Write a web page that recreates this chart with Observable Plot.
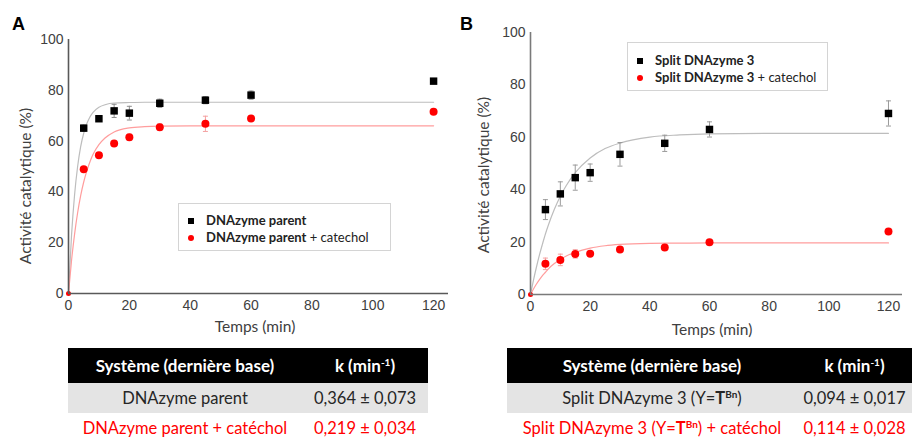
<!DOCTYPE html>
<html><head><meta charset="utf-8">
<script src="https://cdn.jsdelivr.net/npm/d3@7"></script>
<script src="https://cdn.jsdelivr.net/npm/@observablehq/plot@0.6"></script>
<style>
html,body{margin:0;padding:0;background:#fff;}
body{width:912px;height:443px;position:relative;overflow:hidden;font-family:Lato,"Open Sans",sans-serif;}
.plot{position:absolute;top:0;}
.letter{position:absolute;font-family:"Liberation Sans",Arial,sans-serif;font-weight:bold;font-size:18px;line-height:18px;color:#000;}
.axt{position:absolute;font-size:15.5px;color:#404040;white-space:nowrap;line-height:1;}
.legend{position:absolute;border:1px solid #d4d4d4;background:#fff;box-sizing:border-box;}
.lrow{position:absolute;left:0;font-size:13px;color:#222;white-space:nowrap;line-height:1;transform:translateY(-50%);}
.lrow b{font-weight:bold;}
.sym{position:absolute;}
table.tbl{position:absolute;border-collapse:collapse;table-layout:fixed;}
table.tbl td,table.tbl th{padding:0;text-align:center;white-space:nowrap;}
table.tbl th{background:#000;color:#fff;font-weight:bold;font-size:17px;height:35px;}
table.tbl tr.g td{background:#e4e4e4;color:#262626;font-size:16.5px;height:30px;}
table.tbl tr.r td{background:#fff;color:#ff0000;font-size:16.5px;height:30px;}
sup{font-size:10px;line-height:0;vertical-align:6px;}
</style></head><body>
<div id="plotA" class="plot" style="left:0"></div>
<div id="plotB" class="plot" style="left:455px"></div>
<div id="overlay"></div>
<script>
// ---------- data ----------
const times = [0, 5, 10, 15, 20, 30, 45, 60, 120];
const xTicks = [0, 20, 40, 60, 80, 100, 120];
const yTicks = [0, 20, 40, 60, 80, 100];

// Panel A
const parentA      = [0, 65.1, 68.8, 71.9, 71.0, 74.9, 76.1, 78.1, 83.6];
const parentAErr   = [0, 1.2, 1.0, 2.6, 2.7, 1.6, 1.4, 1.6, 0.8];
const parentCatA    = [0, 48.9, 54.4, 59.1, 61.5, 65.5, 66.8, 68.9, 71.6];
const parentCatAErr = [0, 0.8, 0.8, 0.8, 1.2, 1.3, 3.0, 0.8, 0.8];
const fitTimesA     = [0, 1, 2, 3, 4, 5, 6, 7, 8, 10, 12, 15, 20, 25, 30, 40, 60, 120];
const fitParentA    = [0, 23.0, 38.9, 50.0, 57.8, 63.1, 66.8, 69.4, 71.2, 73.3, 74.3, 75.0, 75.2, 75.3, 75.3, 75.3, 75.3, 75.3];
const fitParentCatA = [0, 13.0, 23.4, 31.8, 38.5, 43.9, 48.2, 51.7, 54.6, 58.6, 61.2, 63.6, 65.2, 65.7, 65.9, 66.0, 66.0, 66.0];

// Panel B
const splitB       = [0, 32.4, 38.4, 44.6, 46.5, 53.5, 57.7, 63.0, 69.1];
const splitBErr    = [0, 3.8, 4.6, 4.8, 3.3, 4.5, 3.1, 2.9, 4.8];
const splitCatB    = [0, 11.7, 13.2, 15.5, 15.6, 17.2, 17.9, 19.9, 24.0];
const splitCatBErr = [0, 2.2, 2.2, 1.6, 0.8, 0.8, 0.8, 0.8, 0.8];
const fitTimesB    = [0, 1, 2, 3, 4, 5, 6, 8, 10, 12, 15, 20, 25, 30, 40, 50, 60, 80, 120];
const fitSplitB    = [0, 5.5, 10.5, 15.1, 19.2, 23.1, 26.5, 32.5, 37.5, 41.6, 46.5, 52.1, 55.7, 57.8, 60.1, 60.9, 61.3, 61.5, 61.5];
const fitSplitCatB = [0, 2.1, 4.0, 5.7, 7.2, 8.5, 9.8, 11.8, 13.4, 14.7, 16.1, 17.7, 18.6, 19.1, 19.5, 19.6, 19.7, 19.7, 19.7];

// Labels
const xTitle = "Temps (min)";
const yTitle = "Activité catalytique (%)";
const legendA = [["DNAzyme parent", ""], ["DNAzyme parent", " + catechol"]];
const legendB = [["Split DNAzyme 3", ""], ["Split DNAzyme 3", " + catechol"]];
const tableHeader = ["Système (dernière base)", "k (min<sup>-1</sup>)"];
const tableA = [["DNAzyme parent", "0,364 ± 0,073"], ["DNAzyme parent + catéchol", "0,219 ± 0,034"]];
const tableB = [["Split DNAzyme 3 (Y=<b>T<sup>Bn</sup></b>)", "0,094 ± 0,017"], ["Split DNAzyme 3 (Y=<b>T<sup>Bn</sup></b>) + catéchol", "0,114 ± 0,028"]];

// ---------- helpers ----------
const zipPts = (ts, vs, es) => ts.map((t, i) => ({t, v: vs[i], e: es ? es[i] : 0}));
const hline = {draw(ctx, size) { const w = Math.sqrt(size / Math.PI); ctx.moveTo(-w, 0); ctx.lineTo(w, 0); }};

function panel({width, height, ml, mr, mt, mb, xMax, black, red, fitBlack, fitRed, axisColor, barBlack, barRed}) {
  const err = (data, color) => [
    Plot.ruleX(data.filter(d => d.e > 0), {x: "t", y1: d => d.v - d.e, y2: d => d.v + d.e, stroke: color, strokeWidth: 1}),
    Plot.dot(data.filter(d => d.e > 0), {x: "t", y: d => d.v + d.e, symbol: hline, r: 2.5, stroke: color, strokeWidth: 1, fill: "none"}),
    Plot.dot(data.filter(d => d.e > 0), {x: "t", y: d => d.v - d.e, symbol: hline, r: 2.5, stroke: color, strokeWidth: 1, fill: "none"})
  ];
  return Plot.plot({
    width, height, marginLeft: ml, marginRight: mr, marginTop: mt, marginBottom: mb,
    x: {domain: [0, xMax], label: null},
    y: {domain: [0, 100], label: null},
    style: {fontFamily: "'Liberation Sans', Arial, sans-serif", fontSize: "14px", color: "#404040", background: "transparent", overflow: "visible"},
    marks: [
      Plot.axisX(xTicks, {tickSize: 0, tickPadding: 7, fontSize: 14, label: null}),
      Plot.axisY(yTicks, {tickSize: 0, tickPadding: 5, fontSize: 14, label: null}),
      Plot.line(fitBlack, {x: "t", y: "v", stroke: "#bdbdbd", strokeWidth: 1.2, curve: "monotone-x"}),
      Plot.line(fitRed, {x: "t", y: "v", stroke: "#ff9d9d", strokeWidth: 1.2, curve: "monotone-x"}),
      ...err(black, barBlack),
      ...err(red, barRed),
      Plot.dot(black.filter(d => d.t > 0), {x: "t", y: "v", symbol: "square", r: 4.2, fill: "#000", stroke: "none"}),
      Plot.dot(red.filter(d => d.t > 0), {x: "t", y: "v", r: 4, fill: "#ff0000", stroke: "none"}),
      Plot.dot(red.filter(d => d.t === 0), {x: "t", y: "v", r: 2.5, fill: "#ff0000", stroke: "none"}),
      Plot.ruleY([0], {stroke: axisColor, strokeWidth: 1.6}),
      Plot.ruleX([0], {stroke: axisColor, strokeWidth: 1.6})
    ]
  });
}

document.getElementById("plotA").append(panel({
  width: 460, height: 340, ml: 68, mr: 12, mt: 39, mb: 47, xMax: 124.9,
  black: zipPts(times, parentA, parentAErr), red: zipPts(times, parentCatA, parentCatAErr),
  fitBlack: zipPts(fitTimesA, fitParentA), fitRed: zipPts(fitTimesA, fitParentCatA),
  axisColor: "#595959", barBlack: "#8c8c8c", barRed: "#f4a0a0"
}));
document.getElementById("plotB").append(panel({
  width: 457, height: 340, ml: 75, mr: 10, mt: 32, mb: 46, xMax: 124.7,
  black: zipPts(times, splitB, splitBErr), red: zipPts(times, splitCatB, splitCatBErr),
  fitBlack: zipPts(fitTimesB, fitSplitB), fitRed: zipPts(fitTimesB, fitSplitCatB),
  axisColor: "#7a7a7a", barBlack: "#9a9a9a", barRed: "#f4a0a0"
}));

// ---------- overlay text, legends, tables ----------
const ov = document.getElementById("overlay");
function add(html) { ov.insertAdjacentHTML("beforeend", html); }

add(`<div class="letter" style="left:12px;top:15px">A</div>`);
add(`<div class="letter" style="left:460px;top:15px">B</div>`);

add(`<div class="axt" style="left:255px;top:327px;transform:translate(-50%,-50%)">${xTitle}</div>`);
add(`<div class="axt" style="left:712px;top:330px;transform:translate(-50%,-50%)">${xTitle}</div>`);
add(`<div class="axt" style="left:26px;top:186px;transform:translate(-50%,-50%) rotate(-90deg)">${yTitle}</div>`);
add(`<div class="axt" style="left:484px;top:175px;transform:translate(-50%,-50%) rotate(-90deg)">${yTitle}</div>`);

function legend(left, top, w, h, rows, rowYs, symX, textX) {
  let html = `<div class="legend" style="left:${left}px;top:${top}px;width:${w}px;height:${h}px">`;
  rows.forEach((r, i) => {
    const y = rowYs[i];
    const sym = i === 0
      ? `<div class="sym" style="left:${symX - 3}px;top:${y - 2}px;width:6px;height:6px;background:#000"></div>`
      : `<div class="sym" style="left:${symX - 3}px;top:${y - 2}px;width:6px;height:6px;border-radius:50%;background:#ff0000"></div>`;
    html += sym + `<div class="lrow" style="left:${textX}px;top:${y}px"><b>${r[0]}</b>${r[1]}</div>`;
  });
  return html + `</div>`;
}
add(legend(178, 203, 213, 48, legendA, [16, 33], 12, 27));
add(legend(627, 42, 201, 49, legendB, [17, 34], 12, 27));

function table(left, top, width, col1, rows) {
  let html = `<table class="tbl" style="left:${left}px;top:${top}px;width:${width}px">`;
  html += `<colgroup><col style="width:${col1}px"><col style="width:${width - col1}px"></colgroup>`;
  html += `<tr><th>${tableHeader[0]}</th><th>${tableHeader[1]}</th></tr>`;
  rows.forEach((r, i) => { html += `<tr class="${i === 0 ? "g" : "r"}"><td>${r[0]}</td><td>${r[1]}</td></tr>`; });
  return html + `</table>`;
}
add(table(68, 348, 360, 234, tableA));
add(table(507, 348, 405, 290, tableB));
</script>
</body></html>
